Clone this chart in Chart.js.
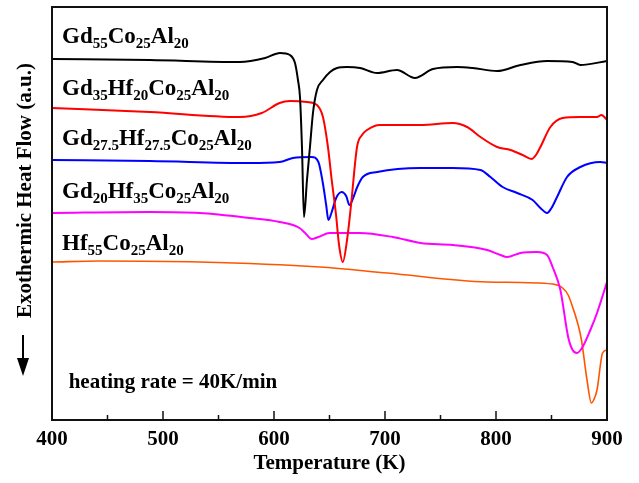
<!DOCTYPE html>
<html>
<head>
<meta charset="utf-8">
<script src="https://cdn.jsdelivr.net/npm/chart.js@4.4.1/dist/chart.umd.min.js"></script>
<style>
  html, body { margin: 0; padding: 0; background: #fff; }
  #wrap { width: 639px; height: 483px; }
</style>
</head>
<body>
<div id="wrap"><canvas id="dsc"></canvas></div>
<script>
// DSC traces: temperature (K) vs heat flow (a.u., curves offset)
const names = ['Gd{55}Co{25}Al{20}', 'Gd{35}Hf{20}Co{25}Al{20}', 'Gd{27.5}Hf{27.5}Co{25}Al{20}',
               'Gd{20}Hf{35}Co{25}Al{20}', 'Hf{55}Co{25}Al{20}'];
const colors = ['#000000', '#ff0000', '#0000ff', '#ff00ff', '#ff5500'];

const gd55T = [400, 488, 569, 592, 605.4, 614.4, 618.9, 621.6, 623.4, 625.2, 627, 629.7, 632.4, 635.1, 638.7, 644.1, 650.5, 656.8, 665.8, 677.5, 692.8, 710.8, 727, 743.2, 764.9, 779, 801, 822, 846, 869, 876, 900];
const gd55Y = [361, 360, 358, 362, 367, 365, 357, 340, 323, 273, 203, 240, 273, 307, 330, 340, 348, 352, 353, 352, 347, 350, 342, 351, 353, 352, 349, 355, 359, 358, 355, 359];

const gd35T = [400, 488, 569, 589, 605, 614.4, 629.7, 638.7, 644.1, 648.6, 652, 655.9, 658.6, 662, 665.8, 669.4, 674.8, 679.3, 683.8, 695.5, 732, 761, 774, 786, 801, 813, 824, 832, 836, 840, 849, 860, 876, 891, 895, 900];
const gd35Y = [312, 308, 303, 307, 317, 319, 318, 315, 303, 273, 240, 205, 175, 158, 180, 215, 273, 285, 290, 295, 295, 297, 293, 283, 273, 270, 265, 261, 265, 273, 293, 302, 303, 303, 305, 300];

const gd27T = [400, 488, 578, 605, 617, 634, 640, 644, 647, 649, 652, 656, 661, 665, 668, 672, 675, 680, 693, 732, 761, 786, 795, 806, 819, 833, 840, 846, 850, 855, 864, 876, 894, 900];
const gd27Y = [260, 259, 257, 258, 262, 263, 258, 237, 215, 200, 208, 222, 228, 224, 215, 224, 233, 243, 248, 252, 252, 250, 243, 233, 227, 220, 212, 207, 212, 223, 243, 253, 258, 257];

const gd20T = [400, 488, 533, 578, 605, 623, 628, 634, 640, 650, 677, 707, 732, 761, 792, 804, 810, 822, 837, 846, 851, 858, 865, 869, 873, 878, 885, 891, 900];
const gd20Y = [207, 208, 207, 202, 198, 192, 187, 181, 183, 187, 187, 183, 177, 175, 170, 165, 163, 167, 168, 165, 153, 130, 83, 70, 67, 73, 90, 107, 138];

const hf55T = [400, 443, 533, 641, 702, 792, 851, 860, 865, 869, 874, 877, 882, 886, 888, 891, 896, 900];
const hf55Y = [158, 159, 158, 153, 147, 138, 136, 132, 125, 113, 95, 80, 40, 17, 20, 30, 67, 70];

const tempsT = [gd55T, gd35T, gd27T, gd20T, hf55T];
const flowsY = [gd55Y, gd35Y, gd27Y, gd20Y, hf55Y];

const SERIF = '"Liberation Serif", "Times New Roman", serif';

function drawFormula(ctx, markup, x, y) {
  const parts = markup.split(/(\{[^}]*\})/).filter(s => s.length);
  let cx = x;
  parts.forEach(p => {
    if (p[0] === '{') {
      ctx.font = 'bold 15px ' + SERIF;
      const t = p.slice(1, -1);
      ctx.fillText(t, cx, y + 5);
      cx += ctx.measureText(t).width;
    } else {
      ctx.font = 'bold 23px ' + SERIF;
      ctx.fillText(p, cx, y);
      cx += ctx.measureText(p).width;
    }
  });
}

const decor = {
  id: 'decor',
  afterDraw(chart) {
    const {ctx, chartArea: a, scales: {x, y}} = chart;
    ctx.save();
    ctx.strokeStyle = '#111';
    ctx.lineWidth = 2;
    ctx.strokeRect(a.left, a.top, a.right - a.left, a.bottom - a.top);

    // inward ticks, major from the scale, minor halfway
    ctx.lineWidth = 1.5;
    const major = x.ticks.map(t => t.value);
    major.forEach((v, i) => {
      const px = x.getPixelForValue(v);
      ctx.beginPath(); ctx.moveTo(px, a.bottom); ctx.lineTo(px, a.bottom - 9); ctx.stroke();
      if (i < major.length - 1) {
        const mx = x.getPixelForValue((v + major[i + 1]) / 2);
        ctx.beginPath(); ctx.moveTo(mx, a.bottom); ctx.lineTo(mx, a.bottom - 5); ctx.stroke();
      }
    });

    // sample names
    ctx.fillStyle = '#000';
    ctx.textAlign = 'left';
    ctx.textBaseline = 'alphabetic';
    const lab = chart.options.plugins.decor;
    names.forEach((n, i) => {
      drawFormula(ctx, n, x.getPixelForValue(lab.labelT), y.getPixelForValue(lab.labelV[i]));
    });
    ctx.font = 'bold 21px ' + SERIF;
    ctx.fillText('heating rate = 40K/min', x.getPixelForValue(415), y.getPixelForValue(32));

    // y title and arrow
    ctx.save();
    ctx.translate(31, (a.top + a.bottom) / 2 - 23);
    ctx.rotate(-Math.PI / 2);
    ctx.textAlign = 'center';
    ctx.font = 'bold 21px ' + SERIF;
    ctx.fillText('Exothermic Heat Flow (a.u.)', 0, 0);
    ctx.restore();

    ctx.strokeStyle = '#000';
    ctx.lineWidth = 2;
    ctx.beginPath(); ctx.moveTo(23, 335); ctx.lineTo(23, 360); ctx.stroke();
    ctx.beginPath(); ctx.moveTo(17, 358); ctx.lineTo(29, 358); ctx.lineTo(23, 376); ctx.closePath(); ctx.fill();
    ctx.restore();
  }
};

new Chart(document.getElementById('dsc'), {
  type: 'line',
  data: {
    datasets: names.map((n, i) => ({
      label: n,
      data: tempsT[i].map((t, k) => ({x: t, y: flowsY[i][k]})),
      borderColor: colors[i],
      borderWidth: i === 4 ? 1.6 : 2,
      pointRadius: 0,
      fill: false,
      cubicInterpolationMode: 'monotone'
    }))
  },
  options: {
    responsive: true,
    maintainAspectRatio: false,
    animation: false,
    layout: {padding: {left: 0, right: 32, top: 7, bottom: 0}},
    plugins: {
      legend: {display: false},
      tooltip: {enabled: false},
      decor: {labelT: 409, labelV: [377, 325, 275, 222, 170]}
    },
    scales: {
      x: {
        type: 'linear',
        min: 400, max: 900,
        afterFit: s => { s.height = 63; },
        grid: {display: false, drawTicks: false},
        border: {display: false},
        ticks: {stepSize: 100, padding: 7, color: '#000', font: {family: SERIF, size: 21, weight: 'bold'}},
        title: {display: true, text: 'Temperature (K)', color: '#000', padding: {top: 0, bottom: 7},
                font: {family: SERIF, size: 21, weight: 'bold'}}
      },
      y: {
        min: 0, max: 413,
        afterFit: s => { s.width = 52; },
        grid: {display: false, drawTicks: false},
        border: {display: false},
        ticks: {display: false}
      }
    }
  },
  plugins: [decor]
});
</script>
</body>
</html>
